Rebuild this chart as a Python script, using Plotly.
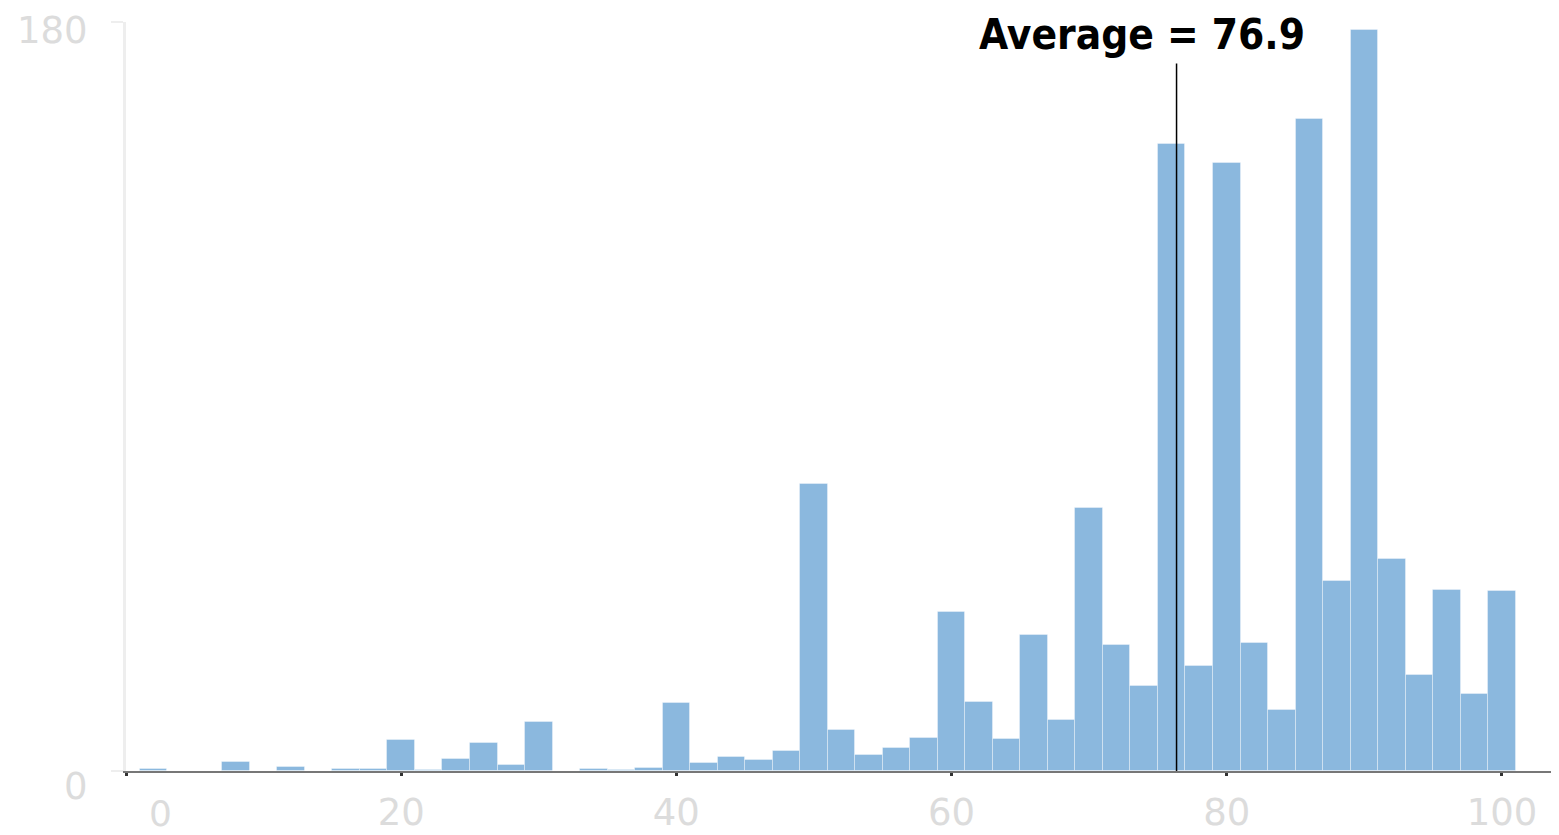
import plotly.graph_objects as go

# ---- data ----
bin_centers = list(range(0, 101, 2))
counts = [
    0, 0.5, 0, 0, 2.1, 0, 0.9, 0, 0.5, 0.5,      # 0..18
    7.4, 0.3, 2.9, 6.8, 1.4, 11.7, 0, 0.5, 0.25, 0.8,   # 20..38
    16.4, 1.9, 3.3, 2.7, 4.8, 69.0, 9.8, 3.8, 5.6, 8.0,  # 40..58
    38.1, 16.5, 7.7, 32.8, 12.3, 63.3, 30.3, 20.5, 150.6, 25.2,  # 60..78
    146.2, 30.7, 14.7, 156.7, 45.6, 178.1, 51.0, 23.1, 43.6, 18.5,  # 80..98
    43.3,  # 100
]
bin_width = 2
average_value = 76.9
avg_line_x = 76.35      # where the marker line sits in the reference
avg_line_top = 170
x_tick_vals = [0, 20, 40, 60, 80, 100]
x_tick_text = ["", "20", "40", "60", "80", "100"]
y_tick_vals = [0, 180]
y_tick_text = ["0", "180"]
y_label_shift = [-15, -8]

label_font = "'DejaVu Sans', sans-serif"
label_color = "#dcdcdc"

fig = go.Figure()
fig.add_trace(go.Bar(
    x=bin_centers, y=counts, width=bin_width,
    marker=dict(color="#8bb8de", line=dict(color="rgba(255,255,255,0.35)", width=1)),
    hoverinfo="x+y",
))

fig.add_shape(type="line", xref="x", yref="y",
              x0=avg_line_x, x1=avg_line_x, y0=0, y1=avg_line_top,
              line=dict(color="black", width=1.5), layer="above")

fig.add_annotation(
    text=f"<b>Average = {average_value}</b>",
    xref="paper", yref="paper", x=0.71, y=0.983,
    xanchor="center", yanchor="middle", showarrow=False,
    font=dict(family="'DejaVu Sans Condensed', 'Liberation Sans Narrow', sans-serif",
              size=42, color="black"),
)

# "0" x label positioned as in the reference
fig.add_annotation(text="0", xref="x", yref="paper", x=0, y=0, xshift=34, yshift=-42,
                   xanchor="center", yanchor="middle", showarrow=False,
                   font=dict(family=label_font, size=36, color=label_color))
# y labels
for v, t, s in zip(y_tick_vals, y_tick_text, y_label_shift):
    fig.add_annotation(text=t, xref="paper", yref="y", x=0, y=v, xshift=-36, yshift=s,
                       xanchor="right", yanchor="middle", showarrow=False,
                       font=dict(family=label_font, size=37, color=label_color))

fig.update_layout(
    width=1551, height=827,
    margin=dict(l=118, r=2, t=14, b=64, autoexpand=False),
    plot_bgcolor="white", paper_bgcolor="white",
    showlegend=False, bargap=0,
    xaxis=dict(
        range=[0, 104], tickvals=x_tick_vals, ticktext=x_tick_text,
        automargin=False,
        showgrid=False, zeroline=False,
        showline=True, linecolor="#777", linewidth=2,
        ticks="outside", ticklen=3, tickwidth=3, tickcolor="#333",
        ticklabelstandoff=5,
        tickfont=dict(family=label_font, size=37, color=label_color),
    ),
    yaxis=dict(
        range=[0, 180], tickvals=y_tick_vals, showticklabels=False,
        automargin=False,
        showgrid=False, zeroline=False,
        showline=True, linecolor="#eeeeee", linewidth=3,
        ticks="outside", ticklen=12, tickwidth=2, tickcolor="#eeeeee",
    ),
)

fig.write_html("out.html")
